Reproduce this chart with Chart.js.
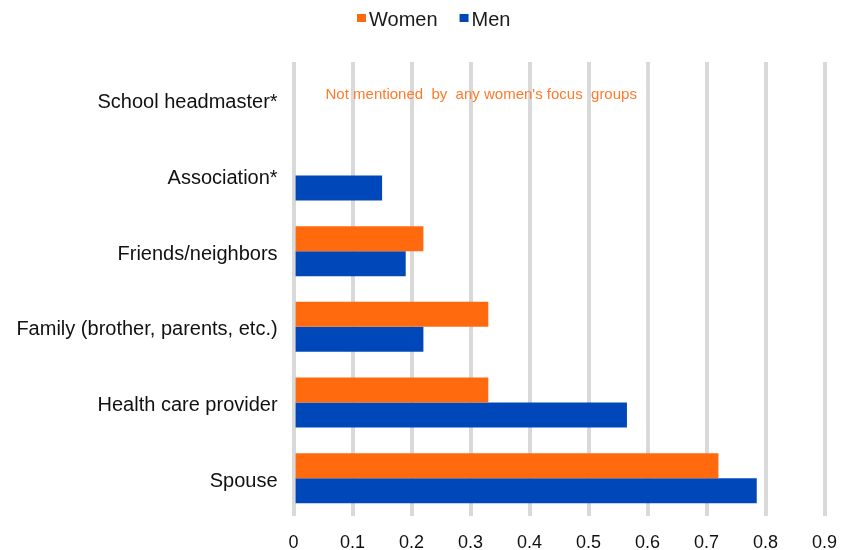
<!DOCTYPE html>
<html>
<head>
<meta charset="utf-8">
<script src="https://cdn.jsdelivr.net/npm/chart.js@4.4.0/dist/chart.umd.min.js"></script>
<style>
  html, body { margin: 0; padding: 0; background: #ffffff; }
  #wrap { width: 843px; height: 550px; position: relative; }
</style>
</head>
<body>
<div id="wrap"><canvas id="c" width="843" height="550"></canvas></div>
<script>
const categories = [
  "School headmaster*",
  "Association*",
  "Friends/neighbors",
  "Family (brother, parents, etc.)",
  "Health care provider",
  "Spouse"
];
const womenValues = [null, null, 0.22, 0.33, 0.33, 0.72];
const menValues = [null, 0.15, 0.19, 0.22, 0.565, 0.785];
const xTicks = [0, 0.1, 0.2, 0.3, 0.4, 0.5, 0.6, 0.7, 0.8, 0.9];
const noteText = "Not mentioned  by  any women's focus  groups";
const noteCategory = "School headmaster*";
const noteValue = 0.318;

const ORANGE = "#FF6A0E";
const BLUE = "#0048BA";
const FONT = "'Liberation Sans', Arial, sans-serif";

const notePlugin = {
  id: "note",
  afterDatasetsDraw(chart) {
    const { ctx, scales } = chart;
    const x = scales.x.getPixelForValue(noteValue);
    const y = scales.y.getPixelForValue(categories.indexOf(noteCategory)) - 5;
    ctx.save();
    ctx.font = "15px " + FONT;
    ctx.fillStyle = "#FF7A2A";
    ctx.textAlign = "center";
    ctx.textBaseline = "middle";
    ctx.fillText(noteText, x, y);
    ctx.restore();
  }
};

const legendPlugin = {
  id: "miniLegend",
  afterDraw(chart) {
    const { ctx } = chart;
    ctx.save();
    ctx.font = "20px " + FONT;
    ctx.textBaseline = "middle";
    ctx.textAlign = "left";
    let x = 357;
    const y = 20;
    chart.data.datasets.forEach((ds) => {
      ctx.fillStyle = ds.backgroundColor;
      ctx.fillRect(x, y - 6, 9, 8);
      x += 12;
      ctx.fillStyle = "#1a1a1a";
      ctx.fillText(ds.label, x, y);
      x += ctx.measureText(ds.label).width + 22;
    });
    ctx.restore();
  }
};

new Chart(document.getElementById("c"), {
  type: "bar",
  data: {
    labels: categories,
    datasets: [
      { label: "Women", data: womenValues, backgroundColor: ORANGE, borderWidth: 0,
        categoryPercentage: 0.66, barPercentage: 1.0 },
      { label: "Men", data: menValues, backgroundColor: BLUE, borderWidth: 0,
        categoryPercentage: 0.66, barPercentage: 1.0 }
    ]
  },
  options: {
    indexAxis: "y",
    responsive: false,
    animation: false,
    layout: { padding: { left: 0, right: 18.4, top: 62, bottom: 0 } },
    plugins: {
      legend: { display: false },
      tooltip: { enabled: false }
    },
    scales: {
      x: {
        min: 0, max: 0.9,
        afterBuildTicks(axis) { axis.ticks = xTicks.map(v => ({ value: v })); },
        afterFit(axis) { axis.height = 34; axis.paddingLeft = 0; axis.paddingRight = 0; },
        grid: { color: "#d9d9d9", lineWidth: 4, drawTicks: false },
        border: { display: false },
        ticks: {
          color: "#111", padding: 16,
          font: { family: FONT, size: 18 },
          callback: (v) => String(v)
        }
      },
      y: {
        afterFit(axis) { axis.width = 293.6; },
        grid: { display: false, drawTicks: false },
        border: { display: false },
        ticks: {
          color: "#111", padding: 16, labelOffset: 3,
          font: { family: FONT, size: 20 }
        }
      }
    }
  },
  plugins: [notePlugin, legendPlugin]
});
</script>
</body>
</html>
